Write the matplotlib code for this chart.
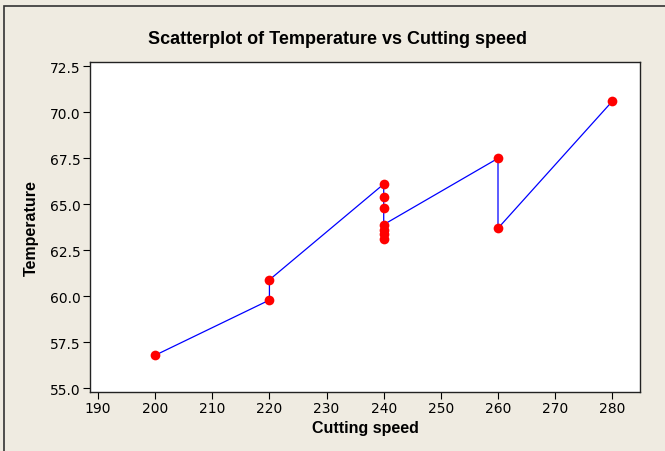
import matplotlib
matplotlib.use('Agg')
import matplotlib.pyplot as plt
import matplotlib.patches as patches
import numpy as np

# data (in plotting order, sorted by speed)
cutting_speed = [200, 220, 220, 240, 240, 240, 240, 240, 240, 240, 260, 260, 280]
temperature = [56.8, 59.8, 60.9, 66.1, 65.4, 64.8, 63.1, 63.4, 63.6, 63.9, 67.5, 63.7, 70.6]

x_ticks = np.arange(190, 281, 10)
y_ticks = [55.0, 57.5, 60.0, 62.5, 65.0, 67.5, 70.0, 72.5]

plt.rcParams['font.family'] = ['DejaVu Sans']
bold_font = ['Liberation Sans', 'DejaVu Sans']
bg = '#efebe1'

fig = plt.figure(figsize=(6.65, 4.52), dpi=100, facecolor=bg)
ax = fig.add_axes([90 / 665, 1 - 392.7 / 452, 550 / 665, 330 / 452])
ax.set_facecolor('white')

# outer frame of the graph window
frame = patches.Rectangle((4 / 665, -0.1), 1.2, 1 - 7 / 452 + 0.1,
                          transform=fig.transFigure, fill=False,
                          edgecolor='#333333', linewidth=1.2)
fig.patches.append(frame)

ax.plot(cutting_speed, temperature, color='#0000ff', linewidth=0.9, zorder=2)
ax.plot(cutting_speed, temperature, 'o', color='#ff0000', markersize=7,
        markeredgewidth=0, zorder=3)

ax.set_xlim(188.6, 284.85)
ax.set_ylim(54.82, 72.75)
ax.set_xticks(x_ticks)
ax.set_yticks(y_ticks)
ax.set_yticklabels(['{:.1f}'.format(v) for v in y_ticks])
ax.tick_params(direction='out', length=5, width=0.8, labelsize=10,
               colors='black', pad=2)
for s in ax.spines.values():
    s.set_linewidth(1.0)
    s.set_color('#222222')

ax.set_xlabel('Cutting speed', fontsize=11.5, fontweight='bold', labelpad=3,
              family=bold_font)
ax.set_ylabel('Temperature', fontsize=11.5, fontweight='bold', labelpad=8,
              family=bold_font)
fig.text(337 / 665, 1 - 40 / 452, 'Scatterplot of Temperature vs Cutting speed',
         ha='center', va='center', fontsize=13, fontweight='bold',
         family=bold_font)

fig.savefig('out.png', dpi=100, facecolor=bg)
